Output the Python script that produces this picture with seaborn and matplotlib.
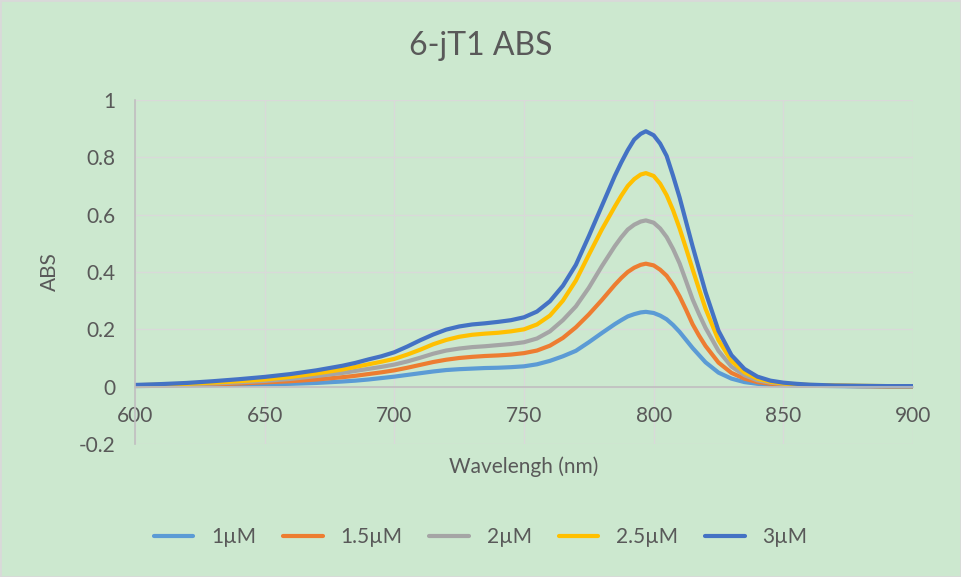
import pandas as pd
import matplotlib
matplotlib.use("Agg")
import matplotlib.pyplot as plt
import seaborn as sns
from matplotlib.patches import Rectangle

# wavelengths (nm) and absorbance
wavelength = [600, 610, 620, 630, 640, 650, 660, 670, 680, 685, 690, 695, 700, 705, 710, 715, 720, 725,
              730, 735, 740, 745, 750, 755, 760, 765, 770, 775, 780, 785, 787.5, 790, 792.5, 795, 797,
              800, 802.5, 805, 807.5, 810, 812.5, 815, 817.5, 820, 825, 830, 835, 840, 845, 850, 855,
              860, 870, 880, 890, 900]

abs_1uM = [0.002, 0.003, 0.004, 0.005, 0.006, 0.008, 0.010, 0.013, 0.018, 0.021, 0.025, 0.030, 0.035, 0.041,
           0.047, 0.053, 0.058, 0.061, 0.063, 0.065, 0.066, 0.068, 0.071, 0.078, 0.090, 0.106, 0.125, 0.155,
           0.187, 0.218, 0.232, 0.245, 0.253, 0.259, 0.261, 0.257, 0.248, 0.235, 0.215, 0.191, 0.163, 0.135,
           0.110, 0.085, 0.049, 0.028, 0.016, 0.010, 0.006, 0.004, 0.003, 0.003, 0.002, 0.001, 0.001, 0.001]
abs_1_5uM = [0.003, 0.004, 0.006, 0.008, 0.011, 0.015, 0.019, 0.025, 0.033, 0.038, 0.044, 0.050, 0.057, 0.066,
             0.076, 0.086, 0.094, 0.100, 0.104, 0.107, 0.109, 0.112, 0.117, 0.126, 0.143, 0.170, 0.207, 0.252,
             0.302, 0.355, 0.379, 0.400, 0.415, 0.425, 0.429, 0.423, 0.408, 0.387, 0.355, 0.315, 0.268, 0.218,
             0.178, 0.142, 0.084, 0.048, 0.028, 0.016, 0.010, 0.007, 0.005, 0.004, 0.003, 0.002, 0.001, 0.001]
abs_2uM = [0.004, 0.006, 0.008, 0.011, 0.015, 0.020, 0.027, 0.037, 0.048, 0.055, 0.062, 0.069, 0.077, 0.088,
           0.101, 0.115, 0.126, 0.133, 0.138, 0.141, 0.145, 0.149, 0.155, 0.168, 0.193, 0.232, 0.280, 0.345,
           0.420, 0.490, 0.521, 0.548, 0.565, 0.576, 0.580, 0.572, 0.552, 0.522, 0.480, 0.430, 0.368, 0.305,
           0.253, 0.205, 0.125, 0.070, 0.040, 0.022, 0.014, 0.009, 0.006, 0.005, 0.003, 0.002, 0.002, 0.001]
abs_2_5uM = [0.005, 0.007, 0.010, 0.014, 0.019, 0.025, 0.034, 0.046, 0.060, 0.069, 0.078, 0.087, 0.097, 0.112,
             0.129, 0.148, 0.163, 0.174, 0.181, 0.185, 0.188, 0.193, 0.200, 0.217, 0.248, 0.300, 0.370, 0.460,
             0.548, 0.628, 0.666, 0.700, 0.724, 0.740, 0.745, 0.735, 0.708, 0.668, 0.615, 0.552, 0.482, 0.410,
             0.340, 0.272, 0.162, 0.090, 0.050, 0.028, 0.017, 0.011, 0.008, 0.006, 0.004, 0.003, 0.002, 0.002]
abs_3uM = [0.006, 0.009, 0.013, 0.019, 0.026, 0.034, 0.044, 0.057, 0.073, 0.083, 0.095, 0.106, 0.120, 0.140,
           0.162, 0.182, 0.199, 0.210, 0.217, 0.221, 0.226, 0.232, 0.242, 0.262, 0.298, 0.352, 0.425, 0.525,
           0.630, 0.735, 0.782, 0.825, 0.862, 0.882, 0.891, 0.877, 0.848, 0.805, 0.735, 0.660, 0.575, 0.490,
           0.410, 0.330, 0.195, 0.110, 0.062, 0.035, 0.021, 0.014, 0.010, 0.007, 0.004, 0.003, 0.002, 0.002]

labels = ["1µM", "1.5µM", "2µM", "2.5µM", "3µM"]
colors = ["#5B9BD5", "#ED7D31", "#A5A5A5", "#FFC000", "#4472C4"]

df = pd.DataFrame({"Wavelength": wavelength, "1µM": abs_1uM, "1.5µM": abs_1_5uM,
                   "2µM": abs_2uM, "2.5µM": abs_2_5uM, "3µM": abs_3uM})
df = df.melt(id_vars="Wavelength", var_name="Conc", value_name="ABS")

bg = "#CCE8CF"
txt = "#595959"
sns.set_style("white")
plt.rcParams["font.family"] = ["Lato", "DejaVu Sans"]

fig = plt.figure(figsize=(9.61, 5.77), dpi=100, facecolor=bg)
ax = fig.add_axes([135 / 961, 1 - 444 / 577, 778 / 961, 344 / 577])
ax.set_facecolor(bg)

sns.lineplot(data=df, x="Wavelength", y="ABS", hue="Conc", hue_order=labels,
             palette=colors, linewidth=3.0, errorbar=None, ax=ax)

ax.set_xlim(600, 900)
ax.set_ylim(-0.2, 1)
ax.set_xticks([600, 650, 700, 750, 800, 850, 900])
yt = [-0.2, 0, 0.2, 0.4, 0.6, 0.8, 1]
ax.set_yticks(yt)
ax.set_yticklabels([f"{v:g}" for v in yt])
ax.grid(True, color="#D9D9D9", linewidth=1.0)
ax.set_axisbelow(True)

for s in ["top", "right"]:
    ax.spines[s].set_visible(False)
ax.spines["bottom"].set_position(("data", 0))
ax.spines["bottom"].set_color("#BFBFBF")
ax.spines["bottom"].set_linewidth(1.2)
ax.spines["left"].set_color("#BFBFBF")
ax.spines["left"].set_linewidth(1.2)
ax.tick_params(axis="both", length=0, labelsize=15, labelcolor=txt)
ax.tick_params(axis="x", pad=14)
ax.tick_params(axis="y", pad=14)

ax.set_xlabel("")
ax.set_ylabel("")
fig.text(524 / 961, 1 - 467 / 577, "Wavelengh (nm)", ha="center", va="center", fontsize=15, color=txt)
fig.text(50 / 961, 1 - 272 / 577, "ABS", ha="center", va="center", rotation=90, fontsize=15, color=txt)
fig.text(481 / 961, 1 - 46 / 577, "6-jT1 ABS", ha="center", va="center", fontsize=23, color=txt)

handles, lbls = ax.get_legend_handles_labels()
ax.legend_.remove()
leg = fig.legend(handles, lbls, loc="center", bbox_to_anchor=(0.5, 1 - 537 / 577), ncol=5,
                 frameon=False, fontsize=15, handlelength=1.9, handletextpad=0.85, columnspacing=1.3)
for t in leg.get_texts():
    t.set_color(txt)

fig.patches.append(Rectangle((0, 0), 1, 1, transform=fig.transFigure, fill=False,
                             edgecolor="#D9D9D9", linewidth=2))

fig.savefig("out.png", dpi=100, facecolor=bg)
